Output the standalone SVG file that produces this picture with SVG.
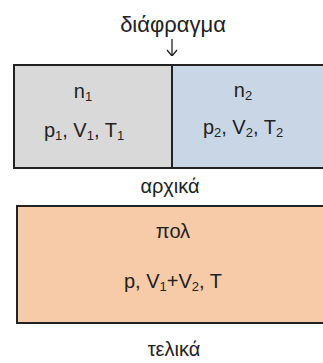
<svg xmlns="http://www.w3.org/2000/svg" width="323" height="363" viewBox="0 0 323 363">
<style>
text{font-family:"Liberation Sans",Arial,sans-serif;font-size:20px;fill:#222;text-anchor:middle}
.lbl{font-size:20px}
.sub{font-size:13px}
.box{stroke:#222;stroke-width:2}
</style>
<defs>
<marker id="arr" viewBox="0 0 10 12" refX="10" refY="6" markerWidth="10" markerHeight="12" markerUnits="userSpaceOnUse" orient="auto">
<path d="M4,1 L10,6 L4,11" fill="none" stroke="#222" stroke-width="1.3"/>
</marker>
</defs>
<rect width="323" height="363" fill="#fff"/>
<g id="diaphragm-label">
<text class="lbl" x="173" y="32" style="font-size:22px">διάφραγμα</text>
</g>
<g id="connectors">
<line x1="172" y1="39" x2="172" y2="56" stroke="#222" stroke-width="1.3" marker-end="url(#arr)"/>
</g>
<g id="initial">
<rect x="14" y="65" width="158" height="103" fill="#d9d9d9" class="box"/>
<rect x="172" y="65" width="160" height="103" fill="#c9d6e5" class="box"/>
<text x="83" y="98">n<tspan class="sub" dy="3">1</tspan></text>
<text x="84" y="137">p<tspan class="sub" dy="3">1</tspan><tspan dy="-3">, V</tspan><tspan class="sub" dy="3">1</tspan><tspan dy="-3">, T</tspan><tspan class="sub" dy="3">1</tspan></text>
<text x="243" y="97">n<tspan class="sub" dy="3">2</tspan></text>
<text x="243" y="134">p<tspan class="sub" dy="3">2</tspan><tspan dy="-3">, V</tspan><tspan class="sub" dy="3">2</tspan><tspan dy="-3">, T</tspan><tspan class="sub" dy="3">2</tspan></text>
<text class="lbl" x="170" y="193">αρχικά</text>
</g>
<g id="final">
<rect x="17" y="206" width="320" height="117" fill="#f8cba8" class="box"/>
<text x="173" y="238">πολ</text>
<text x="173" y="288">p, V<tspan class="sub" dy="3">1</tspan><tspan dy="-3">+V</tspan><tspan class="sub" dy="3">2</tspan><tspan dy="-3">, T</tspan></text>
<text class="lbl" x="174" y="356">τελικά</text>
</g>
</svg>
